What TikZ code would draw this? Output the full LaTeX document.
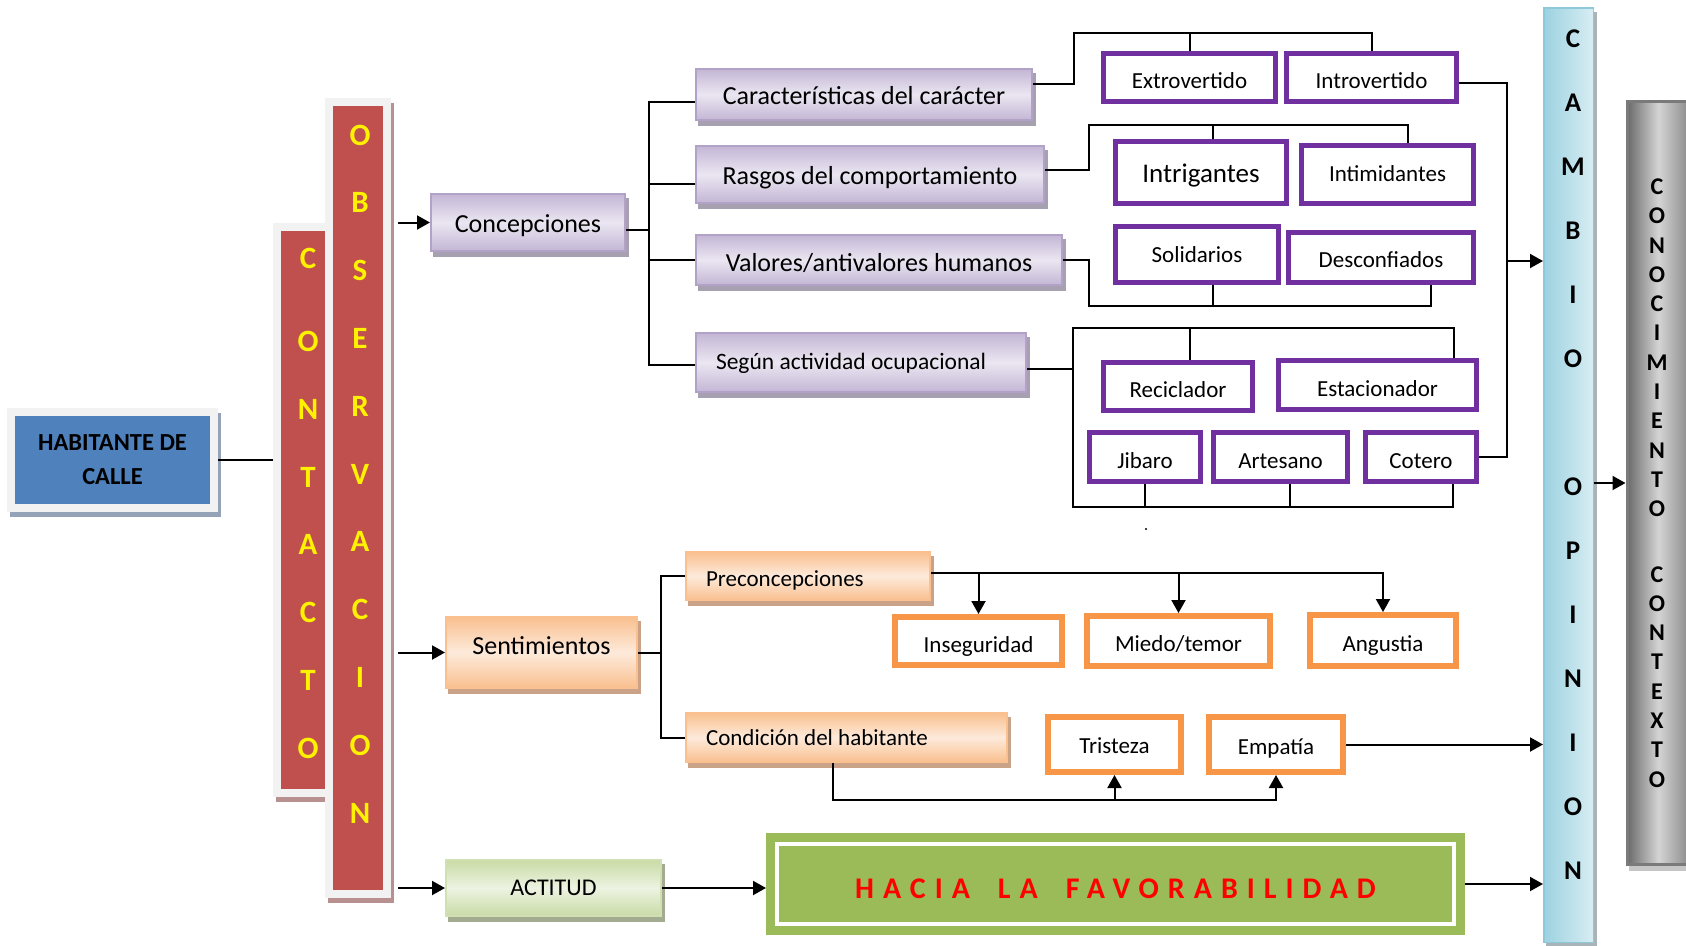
\documentclass[tikz,border=0pt]{standalone}
\usepackage{fontspec}
\setmainfont{Carlito}
\usetikzlibrary{arrows.meta}
\definecolor{habblue}{HTML}{4F81BD}
\definecolor{frame}{HTML}{F2F2F2}
\definecolor{habshad}{HTML}{95A3B8}
\definecolor{colred}{HTML}{C0504D}
\definecolor{redshad}{HTML}{B8908F}
\definecolor{lavdark}{HTML}{C3B6D5}
\definecolor{lavlight}{HTML}{EBE6F1}
\definecolor{lavline}{HTML}{B3A2C7}
\definecolor{lavshad}{HTML}{A7A0B1}
\definecolor{violeta}{HTML}{7030A0}
\definecolor{ordark}{HTML}{F9C08F}
\definecolor{orlight}{HTML}{FDEADB}
\definecolor{orline}{HTML}{FAC090}
\definecolor{orshad}{HTML}{C9A287}
\definecolor{naranja}{HTML}{F79646}
\definecolor{grdark}{HTML}{C9DBA5}
\definecolor{grlight}{HTML}{EDF3E2}
\definecolor{grline}{HTML}{D0E0B2}
\definecolor{grshad}{HTML}{A3AB90}
\definecolor{verde}{HTML}{9BBB59}
\definecolor{celdark}{HTML}{9CD2E0}
\definecolor{cellight}{HTML}{D8EDF3}
\definecolor{celline}{HTML}{8EC9D9}
\definecolor{celshad}{HTML}{A9B4B8}
\definecolor{conleft}{HTML}{6A6A6A}
\definecolor{conmid}{HTML}{D4D4D4}
\definecolor{conright}{HTML}{888888}
\definecolor{conline}{HTML}{7A7A7A}
\definecolor{conshad}{HTML}{C6C6C6}
\begin{document}
\begin{tikzpicture}[x=1pt,y=-1pt,
  every node/.style={font=\fontsize{23}{28}\selectfont},
  conn/.style={line width=2pt},
  arr/.style={line width=2pt,-{Triangle[length=13pt,width=14pt]}},
  shad/.style={preaction={fill=#1,draw=#1,transform canvas={xshift=3pt,yshift=-5pt}}},
  colbar/.style={draw=frame,line width=8pt,fill=colred,shad=redshad},
  colword/.style={align=center,text=yellow,font=\fontsize{31}{67.8}\selectfont\bfseries},
  lavbox/.style={draw=lavline,line width=2pt,top color=lavdark,bottom color=lavdark,middle color=lavlight,shad=lavshad,font=\fontsize{26}{30}\selectfont,text height=20pt,text depth=0pt},
  vbox/.style={draw=violeta,line width=5pt,fill=white,text height=22pt,text depth=0pt},
  orbox/.style={draw=orline,line width=2pt,top color=ordark,bottom color=ordark,middle color=orlight,shad=orshad},
  nbox/.style={draw=naranja,line width=6pt,fill=white,text height=21pt,text depth=0pt}]
\useasboundingbox (0,0) rectangle (1686,945);

\node[draw=frame,line width=8pt,fill=habblue,shad=habshad,minimum width=203pt,minimum height=96pt,align=center,font=\fontsize{24.5}{34}\selectfont\bfseries] (hab) at (112.5,460) {HABITANTE DE\\CALLE};

\node[colbar,minimum width=54pt,minimum height=566pt] (cont) at (304,510) {};
\node[colbar,minimum width=58pt,minimum height=792pt] (obs) at (358,498) {};
\node[colword] (contW) at (308,503.5) {C\\[15pt]O\\N\\T\\A\\C\\T\\O};
\node[colword] (obsW) at (360,474) {O\\B\\S\\E\\R\\V\\A\\C\\I\\O\\N};

\node[lavbox,minimum width=194pt,minimum height=57pt] (conc) at (528,222.5) {Concepciones};
\node[lavbox,minimum width=336pt,minimum height=51pt] (car) at (864,94.5) {Características del carácter};
\node[lavbox,minimum width=348pt,minimum height=57pt,text height=19pt] (ras) at (870,174.5) {Rasgos del comportamiento};
\node[lavbox,minimum width=366pt,minimum height=50pt,text height=23pt] (val) at (879,260) {Valores/antivalores humanos};
\node[lavbox,minimum width=330pt,minimum height=59pt,inner xsep=20pt,text width=290pt,align=flush left,font=\fontsize{23.5}{28}\selectfont,text height=13pt] (seg) at (861,362.5) {Según actividad ocupacional};

\node[vbox,minimum width=172pt,minimum height=48pt] (ext) at (1189.5,77.5) {Extrovertido};
\node[vbox,minimum width=170pt,minimum height=48pt] (intro) at (1371.5,77.5) {Introvertido};
\node[vbox,minimum width=171pt,minimum height=62pt,font=\fontsize{27}{30}\selectfont,text height=19pt] (intrig) at (1201,172.5) {Intrigantes};
\node[vbox,minimum width=172pt,minimum height=58pt,text height=13pt] (intim) at (1387.5,174.5) {Intimidantes};
\node[vbox,minimum width=163pt,minimum height=56pt,text height=15pt] (sol) at (1197,254.5) {Solidarios};
\node[vbox,minimum width=185pt,minimum height=50pt,text height=19pt] (desc) at (1381,257.5) {Desconfiados};
\node[vbox,minimum width=149pt,minimum height=48pt] (rec) at (1178,386.5) {Reciclador};
\node[vbox,minimum width=198pt,minimum height=49pt,text height=23pt] (est) at (1377.5,385) {Estacionador};
\node[vbox,minimum width=111pt,minimum height=49pt,text height=23pt] (jib) at (1145,457) {Jibaro};
\node[vbox,minimum width=134pt,minimum height=49pt,text height=23pt] (art) at (1280.5,457) {Artesano};
\node[vbox,minimum width=111pt,minimum height=49pt,text height=23pt] (cot) at (1421,457) {Cotero};
\fill (1146,529) circle (1.2pt);

\node[orbox,minimum width=191pt,minimum height=71pt,font=\fontsize{26}{30}\selectfont,text height=4pt,text depth=0pt] (sent) at (541.5,652.5) {Sentimientos};
\node[orbox,minimum width=244pt,minimum height=48pt,inner xsep=20pt,text width=204pt,align=flush left,text height=21pt,text depth=0pt] (prec) at (808,576) {Preconcepciones};
\node[orbox,minimum width=321pt,minimum height=49pt,inner xsep=20pt,text width=281pt,align=flush left,text height=15pt,text depth=0pt] (cond) at (846.5,737.5) {Condición del habitante};
\node[nbox,minimum width=167pt,minimum height=48pt,text height=23pt] (ins) at (978.5,641) {Inseguridad};
\node[nbox,minimum width=183pt,minimum height=50pt] (mie) at (1178.5,641) {Miedo/temor};
\node[nbox,minimum width=146pt,minimum height=51pt] (ang) at (1383,640.5) {Angustia};
\node[nbox,minimum width=133pt,minimum height=55pt,text height=17pt] (tri) at (1114.5,744.5) {Tristeza};
\node[nbox,minimum width=134pt,minimum height=55pt,text height=19pt] (emp) at (1276,744.5) {Empatía};

\node[draw=grline,line width=2pt,top color=grdark,bottom color=grdark,middle color=grlight,shad=grshad,minimum width=215pt,minimum height=56pt,font=\fontsize{24}{28}\selectfont] (act) at (553.5,888) {ACTITUD};
\node[draw=verde,double=white,double distance=4pt,line width=9pt,fill=verde,outer sep=11pt,minimum width=677pt,minimum height=80pt,text=red,text height=29pt,text depth=0pt,font=\fontsize{30}{34}\selectfont\bfseries\addfontfeature{LetterSpace=30}] (hac) at (1115.5,884) {HACIA\hspace{28pt}LA\hspace{28pt}FAVORABILIDAD};

\node[draw=celline,line width=1.5pt,left color=celdark,right color=cellight,shad=celshad,minimum width=49.5pt,minimum height=934.5pt] (cam) at (1568.5,475) {};
\node[align=center,font=\fontsize{27}{64}\selectfont\bfseries] (camW) at (1573,454.5) {C\\A\\M\\B\\I\\O\\[64pt]O\\P\\I\\N\\I\\O\\N};
\node[draw=conline,line width=3pt,left color=conleft,right color=conright,middle color=conmid,shad=conshad,minimum width=63pt,minimum height=763pt] (con) at (1658.5,483) {};
\node[align=center,font=\fontsize{24}{29.3}\selectfont\bfseries] (conW) at (1657,483) {C\\O\\N\\O\\C\\I\\M\\I\\E\\N\\T\\O\\[36pt]C\\O\\N\\T\\E\\X\\T\\O};

\draw[conn] (hab.east) -- (hab.east -| cont.west);
\draw[arr,shorten <=7pt] (obs.east |- conc.west) -- (conc.west);
\draw[arr,shorten <=7pt] (obs.east |- sent.west) -- (sent.west);
\draw[arr,shorten <=7pt] (obs.east |- act.west) -- (act.west);

\coordinate (cbus) at (649,102);
\coordinate (cend) at (649,365);
\draw[conn] (car.west |- cbus) -- (cbus) -- (cend) -- (seg.west |- cend);
\draw[conn] ([yshift=-7pt]conc.east) -| (cbus);
\draw[conn] ([yshift=-9pt]ras.west) -| (cbus);
\draw[conn] (val.west) -| (cbus);

\coordinate (ctop) at (1074,33);
\draw[conn] ([yshift=11pt]car.east) -| (ctop) -| (intro.north);
\draw[conn] (ext.north) |- (ctop);
\coordinate (cright) at (1507,261);
\draw[conn] ([yshift=-5pt]intro.east) -| (cright) |- (cot.east);
\draw[arr] (cright) -- (cright -| cam.west);

\coordinate (rtop) at (1089,125);
\draw[conn] ([yshift=5pt]ras.east) -| (rtop) -| ([xshift=20pt]intim.north);
\draw[conn] ([xshift=12pt]intrig.north) |- (rtop);
\coordinate (vbot) at (1089,306);
\draw[conn] (val.east) -| (vbot) -| ([xshift=50pt]desc.south);
\draw[conn] ([xshift=16pt]sol.south) |- (vbot);

\coordinate (stop) at (1073,328);
\coordinate (sbot) at (1073,507);
\draw[conn] ([yshift=-6pt]seg.east) -| (stop) -| ([xshift=76pt]est.north);
\draw[conn] (stop) -- (sbot) -| ([xshift=32pt]cot.south);
\draw[conn] ([xshift=12pt]rec.north) |- (stop);
\draw[conn] (jib.south) |- (sbot);
\draw[conn] ([xshift=9pt]art.south) |- (sbot);
\draw[arr] (cam.east |- con.west) -- (con.west);

\coordinate (sbus) at (661,0);
\draw[conn] (prec.west) -| (sbus |- cond.west) -- (cond.west);
\draw[conn] (sent.east) -- (sent.east -| sbus);
\coordinate (pline) at ([yshift=3pt]prec.east);
\draw[arr] (pline) -| (ang.north);
\draw[arr] (ins.north |- pline) -- (ins.north);
\draw[arr] (mie.north |- pline) -- (mie.north);
\coordinate (cbot) at (833,800);
\draw[arr] (cbot |- cond.south) -- (cbot) -| (emp.south);
\draw[arr] (tri.south |- cbot) -- (tri.south);
\draw[arr] (emp.east) -- (emp.east -| cam.west);

\draw[arr] (act.east) -- (act.east -| hac.west);
\draw[arr] (hac.east) -- (hac.east -| cam.west);
\end{tikzpicture}
\end{document}
